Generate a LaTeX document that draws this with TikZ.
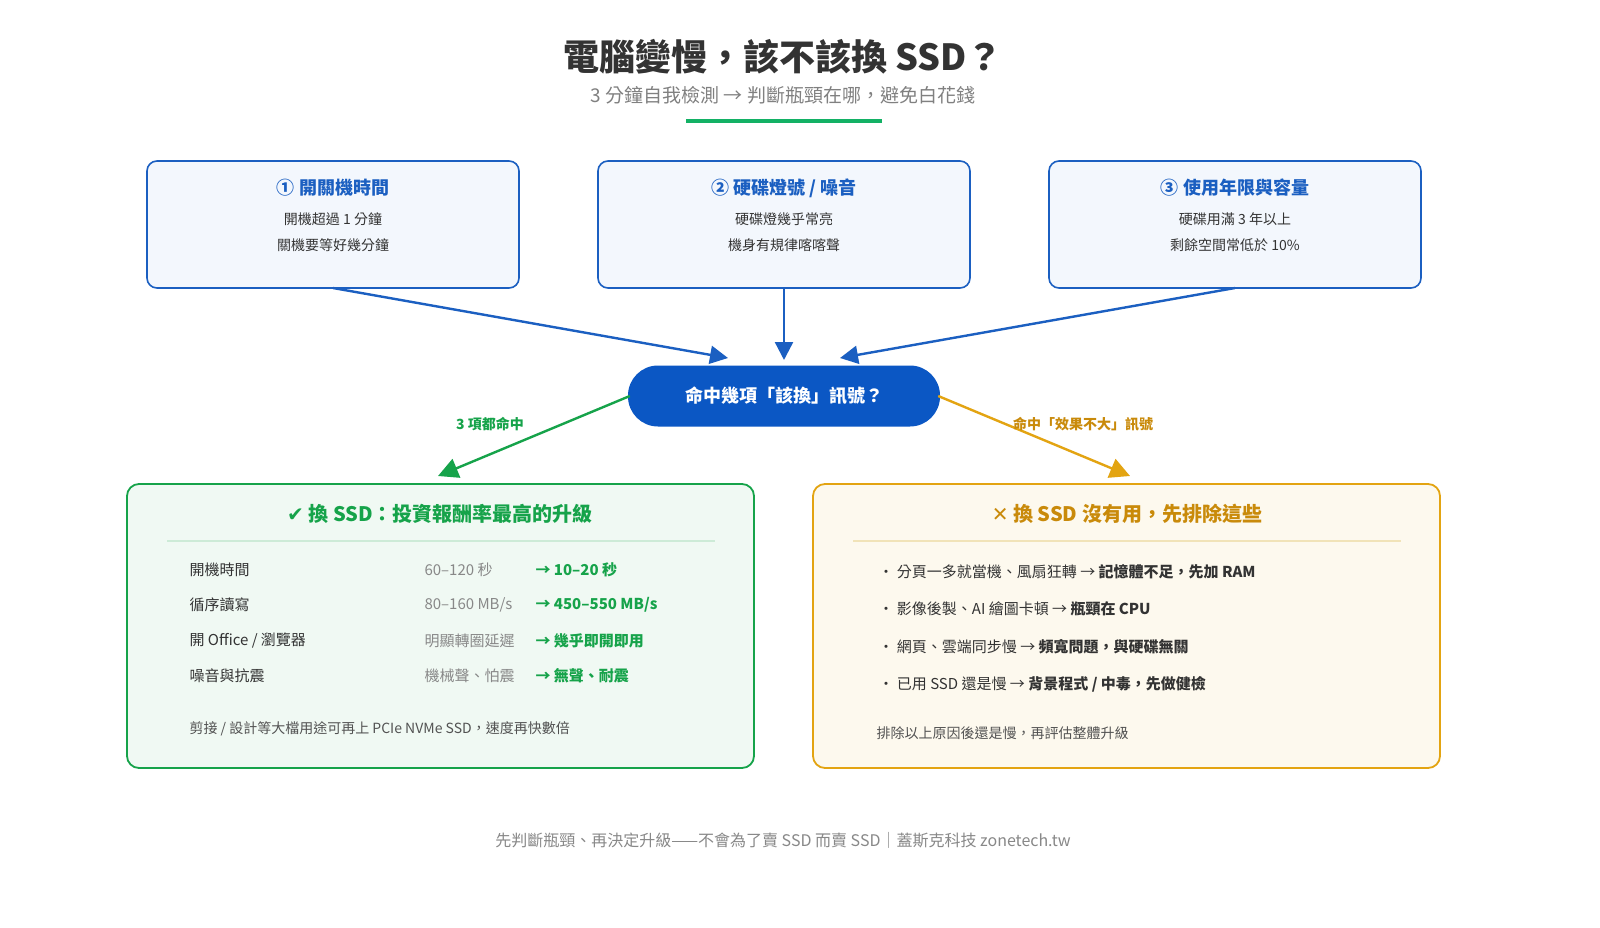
\documentclass[tikz,border=0pt]{standalone}
\usepackage{fontspec}
\setmainfont{Noto Sans CJK TC}
\newfontfamily\symf{DejaVu Sans}
\usetikzlibrary{arrows.meta}
\definecolor{blu}{HTML}{1B5FC1}
\definecolor{dblu}{HTML}{0B57C4}
\definecolor{lblu}{HTML}{F3F7FD}
\definecolor{grn}{HTML}{16A34A}
\definecolor{lgrn}{HTML}{F0F9F3}
\definecolor{grnline}{HTML}{CDEBD7}
\definecolor{org}{HTML}{E3A412}
\definecolor{dorg}{HTML}{C98A0A}
\definecolor{lorg}{HTML}{FDF9EE}
\definecolor{orgline}{HTML}{F1E3B8}
\definecolor{txt}{HTML}{333333}
\definecolor{gry}{HTML}{888888}
\tikzset{
 card/.style={draw=blu,line width=1.6pt,fill=lblu,rounded corners=10pt},
 ctitle/.style={font=\fontsize{18}{22}\selectfont\bfseries,text=blu},
 cline/.style={font=\fontsize{14}{18}\selectfont,text=txt},
 barrow/.style={draw=blu,line width=2.4pt,-{Triangle[length=18pt,width=18pt]}},
 row/.style={anchor=west,font=\fontsize{15}{18}\selectfont,text=txt},
 rowg/.style={anchor=west,font=\fontsize{15}{18}\selectfont,text=gry},
 rowb/.style={anchor=west,font=\fontsize{15}{18}\selectfont\bfseries,text=grn},
 bul/.style={anchor=west,font=\fontsize{15}{18}\selectfont,text=txt},
}
\begin{document}
\begin{tikzpicture}[x=1pt,y=-1pt]
\useasboundingbox[fill=white] (0,0) rectangle (1600,928);
\node[font=\fontsize{36}{42}\selectfont\bfseries,text=txt] (title) at (783,57) {電腦變慢，該不該換 SSD？};
\node[font=\fontsize{19}{22}\selectfont,text=gray] (sub) at (783,95) {3 分鐘自我檢測 → 判斷瓶頸在哪，避免白花錢};
\draw[grn!85!cyan,line width=4pt] (686,121) -- (882,121);

\draw[card] (147,161) rectangle (519,288);
\draw[card] (598,161) rectangle (970,288);
\draw[card] (1049,161) rectangle (1421,288);
\node[ctitle] (t1) at (333,188) {① 開關機時間};
\node[cline] (a1) at (333,219) {開機超過 1 分鐘};
\node[cline] (b1) at (333,245) {關機要等好幾分鐘};
\node[ctitle] (t2) at (784,188) {② 硬碟燈號 / 噪音};
\node[cline] (a2) at (784,219) {硬碟燈幾乎常亮};
\node[cline] (b2) at (784,245) {機身有規律喀喀聲};
\node[ctitle] (t3) at (1235,188) {③ 使用年限與容量};
\node[cline] (a3) at (1235,219) {硬碟用滿 3 年以上};
\node[cline] (b3) at (1235,245) {剩餘空間常低於 10\%};
\coordinate (c1) at (333,288);
\coordinate (c2) at (784,288);
\coordinate (c3) at (1235,288);

\node[fill=dblu,rounded corners=30pt,minimum width=312pt,minimum height=61pt,text=white,font=\fontsize{18}{22}\selectfont\bfseries] (hub) at (784,396) {命中幾項「該換」訊號？};
\coordinate (h1) at (728,358);
\coordinate (h2) at (784,360);
\coordinate (h3) at (840,358);
\draw[barrow] (c1) -- (h1);
\draw[barrow] (c2) -- (h2);
\draw[barrow] (c3) -- (h3);

\coordinate (gl) at (438,476);
\coordinate (ol) at (1130,476);
\draw[draw=grn,line width=2.4pt,-{Triangle[length=20pt,width=20pt]}] (hub.west) ++(2,0) -- (gl);
\draw[draw=org,line width=2.4pt,-{Triangle[length=20pt,width=20pt]}] (hub.east) ++(-2,0) -- (ol);
\node[font=\fontsize{14}{18}\selectfont\bfseries,text=grn] (lg) at (490,424) {3 項都命中};
\node[font=\fontsize{14}{18}\selectfont\bfseries,text=dorg] (lo) at (1083,424) {命中「效果不大」訊號};

\draw[draw=grn,line width=1.8pt,fill=lgrn,rounded corners=12pt] (127,484) rectangle (754,768);
\node[font=\fontsize{20}{24}\selectfont\bfseries,text=grn] (gt) at (440,514) {{\symf ✔} 換 SSD：投資報酬率最高的升級};
\draw[grnline,line width=1.5pt] (167,541) -- (715,541);
\node[row] (r1) at (186,570) {開機時間};
\node[rowg] (r1b) at (421,570) {60–120 秒};
\node[rowb] (r1c) at (532,570) {→ 10–20 秒};
\node[row] (r2) at (186,605) {循序讀寫};
\node[rowg] (r2b) at (421,605) {80–160 MB/s};
\node[rowb] (r2c) at (532,605) {→ 450–550 MB/s};
\node[row] (r3) at (186,641) {開 Office / 瀏覽器};
\node[rowg] (r3b) at (421,641) {明顯轉圈延遲};
\node[rowb] (r3c) at (532,641) {→ 幾乎即開即用};
\node[row] (r4) at (186,676) {噪音與抗震};
\node[rowg] (r4b) at (421,676) {機械聲、怕震};
\node[rowb] (r4c) at (532,676) {→ 無聲、耐震};
\node[anchor=west,font=\fontsize{14}{18}\selectfont,text=txt!85] (gf) at (186,729) {剪接 / 設計等大檔用途可再上 PCIe NVMe SSD，速度再快數倍};

\draw[draw=org,line width=1.8pt,fill=lorg,rounded corners=12pt] (813,484) rectangle (1440,768);
\node[font=\fontsize{20}{24}\selectfont\bfseries,text=dorg] (ot) at (1127,514) {{\symf ✕} 換 SSD 沒有用，先排除這些};
\draw[orgline,line width=1.5pt] (853,541) -- (1401,541);
\node[bul] (o1) at (875,572) {· 分頁一多就當機、風扇狂轉 → \textbf{記憶體不足，先加 RAM}};
\node[bul] (o2) at (875,609) {· 影像後製、AI 繪圖卡頓 → \textbf{瓶頸在 CPU}};
\node[bul] (o3) at (875,647) {· 網頁、雲端同步慢 → \textbf{頻寬問題，與硬碟無關}};
\node[bul] (o4) at (875,684) {· 已用 SSD 還是慢 → \textbf{背景程式 / 中毒，先做健檢}};
\node[anchor=west,font=\fontsize{14}{18}\selectfont,text=txt!85] (of) at (873,733) {排除以上原因後還是慢，再評估整體升級};

\node[font=\fontsize{16}{20}\selectfont,text=gry] (foot) at (783,840) {先判斷瓶頸、再決定升級——不會為了賣 SSD 而賣 SSD｜蓋斯克科技 zonetech.tw};
\end{tikzpicture}
\end{document}
